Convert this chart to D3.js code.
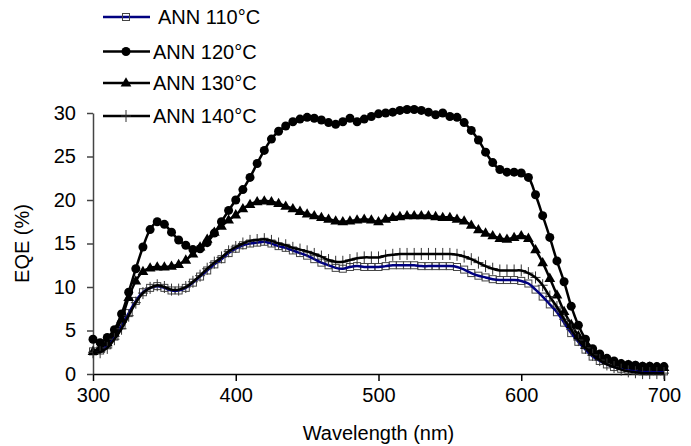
<!DOCTYPE html>
<html>
<head>
<meta charset="utf-8">
<script src="https://cdn.jsdelivr.net/npm/d3@7"></script>
<style>
  body { margin: 0; background: #fff; }
  text { font-family: "Liberation Sans", Arial, sans-serif; }
</style>
</head>
<body>
<div id="chart"></div>
<script>
// wavelengths 300..700 nm every 5 nm
var wavelengths = [300,305,310,315,320,325,330,335,340,345,350,355,360,365,370,375,380,385,390,395,
  400,405,410,415,420,425,430,435,440,445,450,455,460,465,470,475,480,485,490,495,
  500,505,510,515,520,525,530,535,540,545,550,555,560,565,570,575,580,585,590,595,
  600,605,610,615,620,625,630,635,640,645,650,655,660,665,670,675,680,685,690,695,700];

var eqe110 = [2.6,2.7,3.3,4.3,5.6,7.0,8.4,9.4,9.9,10.1,9.9,9.6,9.6,9.9,10.5,11.2,11.9,12.6,13.2,13.9,
  14.4,14.8,15.0,15.1,15.2,15.0,14.7,14.5,14.2,13.9,13.6,13.2,12.8,12.5,12.2,12.1,12.3,12.4,12.3,12.3,
  12.3,12.4,12.5,12.5,12.5,12.5,12.4,12.4,12.4,12.4,12.4,12.3,12.0,11.6,11.3,11.1,10.9,10.8,10.8,10.8,
  10.7,10.4,9.7,8.9,8.0,7.1,5.9,4.7,3.7,2.8,2.0,1.5,1.1,0.8,0.6,0.5,0.4,0.3,0.3,0.3,0.3];

var eqe120 = [4.0,3.6,4.2,5.1,6.9,9.4,12.1,14.6,16.6,17.5,17.2,16.3,15.4,14.8,14.3,14.4,15.1,16.2,17.5,18.8,
  20.0,21.2,22.6,24.2,25.7,27.0,27.9,28.5,29.0,29.3,29.5,29.4,29.2,28.9,28.7,29.0,29.4,29.0,29.3,29.6,
  29.9,30.0,30.1,30.3,30.4,30.4,30.3,30.1,29.8,30.0,29.6,29.5,28.9,28.0,26.9,25.5,24.3,23.5,23.2,23.2,
  23.1,22.6,20.6,18.2,15.7,13.0,10.6,7.8,5.6,4.0,2.9,2.3,1.8,1.5,1.2,1.1,1.0,0.9,0.9,0.85,0.85];

var eqe130 = [2.6,3.0,3.6,4.7,6.3,8.8,10.7,11.8,12.2,12.3,12.3,12.4,12.6,13.1,13.8,14.6,15.5,16.3,17.0,17.7,
  18.3,19.0,19.5,19.8,19.9,19.8,19.6,19.3,19.0,18.7,18.4,18.2,18.0,17.8,17.6,17.5,17.6,17.7,17.8,17.7,
  17.5,17.8,18.0,18.1,18.2,18.2,18.2,18.2,18.1,18.0,18.0,17.8,17.6,17.1,16.6,16.2,15.9,15.6,15.5,15.7,
  15.9,15.6,14.3,12.8,11.0,9.1,7.2,5.7,4.4,3.3,2.5,2.0,1.6,1.3,1.1,1.0,0.9,0.8,0.8,0.75,0.75];

var eqe140 = [2.5,2.5,3.0,4.0,5.2,6.7,8.2,9.3,9.9,10.2,10.0,9.7,9.7,10.0,10.6,11.3,12.1,12.8,13.4,14.1,
  14.6,15.0,15.3,15.4,15.5,15.3,15.0,14.8,14.5,14.3,14.1,13.8,13.5,13.1,12.9,12.9,13.1,13.3,13.4,13.4,
  13.4,13.6,13.7,13.8,13.8,13.8,13.8,13.8,13.8,13.8,13.8,13.7,13.5,13.2,12.8,12.4,12.1,11.9,11.9,11.9,
  11.9,11.6,11.1,10.2,8.9,7.7,6.3,5.1,3.9,3.0,2.2,1.6,1.1,0.8,0.5,0.3,0.2,0.1,0.1,0.1,0.1];

var seriesNames = ["ANN 110\u00B0C", "ANN 120\u00B0C", "ANN 130\u00B0C", "ANN 140\u00B0C"];
var xTicks = [300, 400, 500, 600, 700];
var yTicks = [0, 5, 10, 15, 20, 25, 30];

var width = 691, height = 446;

var x = d3.scaleLinear().domain([300, 700]).range([93, 664]);
var y = d3.scaleLinear().domain([0, 30]).range([374, 113]);

var svg = d3.select("#chart").append("svg")
    .attr("width", width)
    .attr("height", height);

// axes
var xAxis = svg.append("g")
    .attr("transform", "translate(0," + y(0) + ")")
    .call(d3.axisBottom(x).tickValues(xTicks).tickSize(7).tickSizeOuter(0).tickPadding(7));
xAxis.select(".domain").attr("stroke", "#000").attr("stroke-width", 1.5);
xAxis.selectAll(".tick line").attr("stroke", "#000").attr("stroke-width", 1.5);
xAxis.selectAll("text").style("font-size", "20px").attr("fill", "#000");

var yAxis = svg.append("g")
    .attr("transform", "translate(" + x(300) + ",0)")
    .call(d3.axisLeft(y).tickValues(yTicks).tickSize(6).tickSizeOuter(0).tickPadding(11));
yAxis.select(".domain").attr("stroke", "#444").attr("stroke-width", 1.5);
yAxis.selectAll(".tick line").attr("stroke", "#444").attr("stroke-width", 1.5);
yAxis.selectAll("text").style("font-size", "20px").attr("fill", "#000");

// axis titles
svg.append("text")
    .attr("x", x(500))
    .attr("y", 440)
    .attr("text-anchor", "middle")
    .style("font-size", "20px")
    .text("Wavelength (nm)");

svg.append("text")
    .attr("transform", "translate(29," + y(15) + ")rotate(-90)")
    .attr("text-anchor", "middle")
    .style("font-size", "20px")
    .text("EQE (%)");

var line = d3.line()
    .x(function(d) { return x(d[0]); })
    .y(function(d) { return y(d[1]); })
    .curve(d3.curveCatmullRom.alpha(0.5));

var series = [
  {name: seriesNames[0], vals: eqe110, color: "#000080", marker: "square"},
  {name: seriesNames[1], vals: eqe120, color: "#000", marker: "circle"},
  {name: seriesNames[2], vals: eqe130, color: "#000", marker: "triangle"},
  {name: seriesNames[3], vals: eqe140, color: "#000", marker: "plus"}
];

function drawMarker(g, type, cx, cy) {
  if (type == "square") {
    g.append("rect").attr("x", cx - 3.5).attr("y", cy - 3.5).attr("width", 7).attr("height", 7)
      .attr("fill", "none").attr("stroke", "#444").attr("stroke-width", 1);
  } else if (type == "circle") {
    g.append("circle").attr("cx", cx).attr("cy", cy).attr("r", 4.5).attr("fill", "#000");
  } else if (type == "triangle") {
    g.append("path")
      .attr("d", d3.symbol().type(d3.symbolTriangle).size(50)())
      .attr("transform", "translate(" + cx + "," + (cy + 0.5) + ")")
      .attr("fill", "#000");
  } else if (type == "plus") {
    g.append("path")
      .attr("d", "M" + (cx - 5) + "," + cy + "H" + (cx + 5) + "M" + cx + "," + (cy - 6) + "V" + (cy + 6))
      .attr("stroke", "#333").attr("stroke-width", 1).attr("fill", "none");
  }
}

series.forEach(function(s) {
  var data = formatData(wavelengths, s.vals);
  var g = svg.append("g");
  if (s.marker == "plus" || s.marker == "square") {
    data.forEach(function(d) { drawMarker(g, s.marker, x(d[0]), y(d[1])); });
    g.append("path").datum(data)
      .attr("d", line).attr("fill", "none")
      .attr("stroke", s.color).attr("stroke-width", 2.5);
  } else {
    g.append("path").datum(data)
      .attr("d", line).attr("fill", "none")
      .attr("stroke", s.color).attr("stroke-width", 2.5);
    data.forEach(function(d) { drawMarker(g, s.marker, x(d[0]), y(d[1])); });
  }
});

function formatData(arr1, arr2) {
  var arr = [];
  for (var i = 0; i < arr1.length; i++) {
    arr.push([arr1[i], arr2[i]]);
  }
  return arr;
}

// legend
var legendY = [17, 51.5, 83, 116];
var legendTextX = [158, 153, 153, 153];
series.forEach(function(s, i) {
  var g = svg.append("g");
  g.append("line")
    .attr("x1", 103).attr("x2", 150)
    .attr("y1", legendY[i]).attr("y2", legendY[i])
    .attr("stroke", s.color).attr("stroke-width", 2.5);
  drawMarker(g, s.marker, 126, legendY[i]);
  g.append("text")
    .attr("x", legendTextX[i])
    .attr("y", legendY[i])
    .attr("dy", "0.36em")
    .style("font-size", "20px")
    .text(s.name);
});
</script>
</body>
</html>
